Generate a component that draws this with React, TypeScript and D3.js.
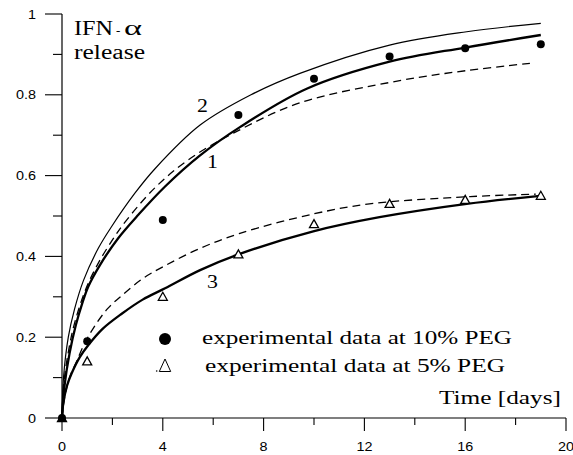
import React from "react";
import * as d3 from "d3";

const W = 573;
const H = 455;

// Experimental data
const days = [0, 1, 4, 7, 10, 13, 16, 19];
const peg10 = [0, 0.19, 0.49, 0.75, 0.84, 0.895, 0.915, 0.925];
const peg5 = [0, 0.14, 0.3, 0.405, 0.48, 0.53, 0.54, 0.55];

// Model curves: [time, release]
const curve2: [number, number][] = [
  [0, 0], [0.06, 0.1], [0.25, 0.2], [0.5, 0.27], [0.85, 0.34], [1.44, 0.42], [1.97, 0.474],
  [2.9, 0.557], [3.69, 0.617], [5.48, 0.725], [7.5, 0.8], [9.44, 0.853], [13, 0.923],
  [16.06, 0.956], [19, 0.977],
];
const curve1: [number, number][] = [
  [0, 0], [0.1, 0.08], [0.3, 0.16], [0.55, 0.23], [0.8, 0.283], [1.04, 0.325], [1.5, 0.378],
  [2.23, 0.445], [3.03, 0.503], [4.09, 0.573], [5.48, 0.65], [7.06, 0.72], [9.71, 0.815],
  [13, 0.882], [16, 0.917], [19, 0.948],
];
const dashed1: [number, number][] = [
  [0, 0], [0.08, 0.09], [0.3, 0.18], [0.5, 0.235], [0.95, 0.32], [1.5, 0.39], [2.1, 0.45],
  [2.5, 0.485], [3.69, 0.57], [5.01, 0.639], [6.8, 0.705], [9.44, 0.78], [13.4, 0.835],
  [16.06, 0.86], [18.74, 0.879],
];
const curve3: [number, number][] = [
  [0, 0], [0.05, 0.036], [0.2, 0.08], [0.38, 0.11], [0.7, 0.15], [1.04, 0.18], [1.6, 0.22],
  [2.37, 0.258], [3.2, 0.293], [4.09, 0.321], [5.48, 0.366], [7, 0.405], [9.97, 0.462],
  [12.6, 0.497], [16.06, 0.53], [18.97, 0.55],
];
const dashed3: [number, number][] = [
  [0, 0], [0.1, 0.05], [0.3, 0.1], [0.58, 0.14], [0.9, 0.185], [1.24, 0.222], [1.8, 0.27],
  [2.37, 0.303], [3.2, 0.345], [4.09, 0.377], [5.48, 0.42], [7.06, 0.457], [9.97, 0.505],
  [12.2, 0.53], [16.2, 0.548], [18.8, 0.554],
];

const xMajor = [0, 4, 8, 12, 16, 20];
const xMinor = [2, 6, 10, 14, 18];
const yMajor = [0, 0.2, 0.4, 0.6, 0.8, 1];
const yMinor = [0.1, 0.3, 0.5, 0.7, 0.9];

const serif = "Liberation Serif";
const sans = "Liberation Sans";

function SText(props: {
  x: number; y: number; sx?: number; size: number; font: string; anchor?: string; children: React.ReactNode; len?: number;
}) {
  const { x, y, sx = 1, size, font, anchor = "start", children, len } = props;
  return (
    <text
      transform={`translate(${x},${y}) scale(${sx},1)`}
      fontSize={size}
      fontFamily={font}
      textAnchor={anchor}
      fill="#000"
      {...(len ? { textLength: len, lengthAdjust: "spacingAndGlyphs" } : {})}
    >
      {children}
    </text>
  );
}

export default function App() {
  const x = d3.scaleLinear().domain([0, 20]).range([62, 566]);
  const y = d3.scaleLinear().domain([0, 1]).range([418, 14]);
  const line = d3
    .line<[number, number]>()
    .x((d) => x(d[0]))
    .y((d) => y(d[1]))
    .curve(d3.curveCatmullRom.alpha(0.5));

  const tri = (cx: number, cy: number, hw: number, up: number, down: number) =>
    `M${cx},${cy - up}L${cx + hw},${cy + down}L${cx - hw},${cy + down}Z`;

  return (
    <svg
      width={W}
      height={H}
      style={{ position: "absolute", left: 0, top: 0, background: "#fff" }}
    >
      <rect width={W} height={H} fill="#fff" />
      {/* axes */}
      <line x1={x(0)} x2={x(20)} y1={y(0)} y2={y(0)} stroke="#000" strokeWidth={1.2} />
      <line x1={x(0)} x2={x(0)} y1={y(0)} y2={y(1)} stroke="#000" strokeWidth={1.2} />
      {xMajor.map((t) => (
        <g key={"xM" + t}>
          <line x1={x(t)} x2={x(t)} y1={y(0)} y2={y(0) + 13} stroke="#000" strokeWidth={1.1} />
          <SText x={x(t)} y={451} sx={1.2} size={12} font={sans} anchor="middle">
            {t}
          </SText>
        </g>
      ))}
      {xMinor.map((t) => (
        <line key={"xm" + t} x1={x(t)} x2={x(t)} y1={y(0)} y2={y(0) + 7} stroke="#000" strokeWidth={1.1} />
      ))}
      {yMajor.map((v) => (
        <g key={"yM" + v}>
          <line x1={x(0) - 17} x2={x(0)} y1={y(v)} y2={y(v)} stroke="#000" strokeWidth={1.1} />
          <SText x={36} y={y(v) + 4.5} sx={1.2} size={12} font={sans} anchor="end">
            {v}
          </SText>
        </g>
      ))}
      {yMinor.map((v) => (
        <line key={"ym" + v} x1={x(0) - 9} x2={x(0)} y1={y(v)} y2={y(v)} stroke="#000" strokeWidth={1.1} />
      ))}

      {/* curves */}
      <path d={line(curve2) || ""} fill="none" stroke="#000" strokeWidth={1.2} />
      <path d={line(curve1) || ""} fill="none" stroke="#000" strokeWidth={2.3} />
      <path d={line(dashed1) || ""} fill="none" stroke="#000" strokeWidth={1.3} strokeDasharray="8,5" />
      <path d={line(curve3) || ""} fill="none" stroke="#000" strokeWidth={2.3} />
      <path d={line(dashed3) || ""} fill="none" stroke="#000" strokeWidth={1.3} strokeDasharray="8,5" />

      {/* data */}
      {days.map((t, i) => (
        <path
          key={"t" + t}
          d={tri(x(t), y(peg5[i]), 4.5, 4.5, 3.5)}
          fill={t === 0 ? "#000" : "#fff"}
          stroke="#000"
          strokeWidth={1.3}
        />
      ))}
      {days.map((t, i) => (
        <circle key={"c" + t} cx={x(t)} cy={y(peg10[i])} r={4} fill="#000" />
      ))}

      {/* curve labels */}
      <SText x={197} y={112} sx={1.15} size={19} font={serif}>2</SText>
      <SText x={207} y={168} sx={1.15} size={19} font={serif}>1</SText>
      <SText x={207} y={288} sx={1.15} size={19} font={serif}>3</SText>

      {/* title */}
      <SText x={74} y={35} size={20} font={serif} len={39}>IFN</SText>
      <SText x={116} y={35} size={13} font={serif}>-</SText>
      <SText x={124} y={35} size={20} font={serif} len={18}>α</SText>
      <SText x={74} y={59} size={20} font={serif} len={71}>release</SText>

      {/* legend */}
      <circle cx={165} cy={339} r={6} fill="#000" />
      <path d={tri(165, 366, 5.7, 7, 5.5)} fill="#fff" stroke="#000" strokeWidth={1} />
      <circle cx={156.7} cy={371} r={0.8} fill="#000" />
      <SText x={202} y={344} size={19} font={serif} len={310}>experimental data at 10% PEG</SText>
      <SText x={205} y={372} size={19} font={serif} len={300}>experimental data at 5% PEG</SText>
      <SText x={439} y={404} size={19} font={serif} len={122}>Time [days]</SText>
    </svg>
  );
}
